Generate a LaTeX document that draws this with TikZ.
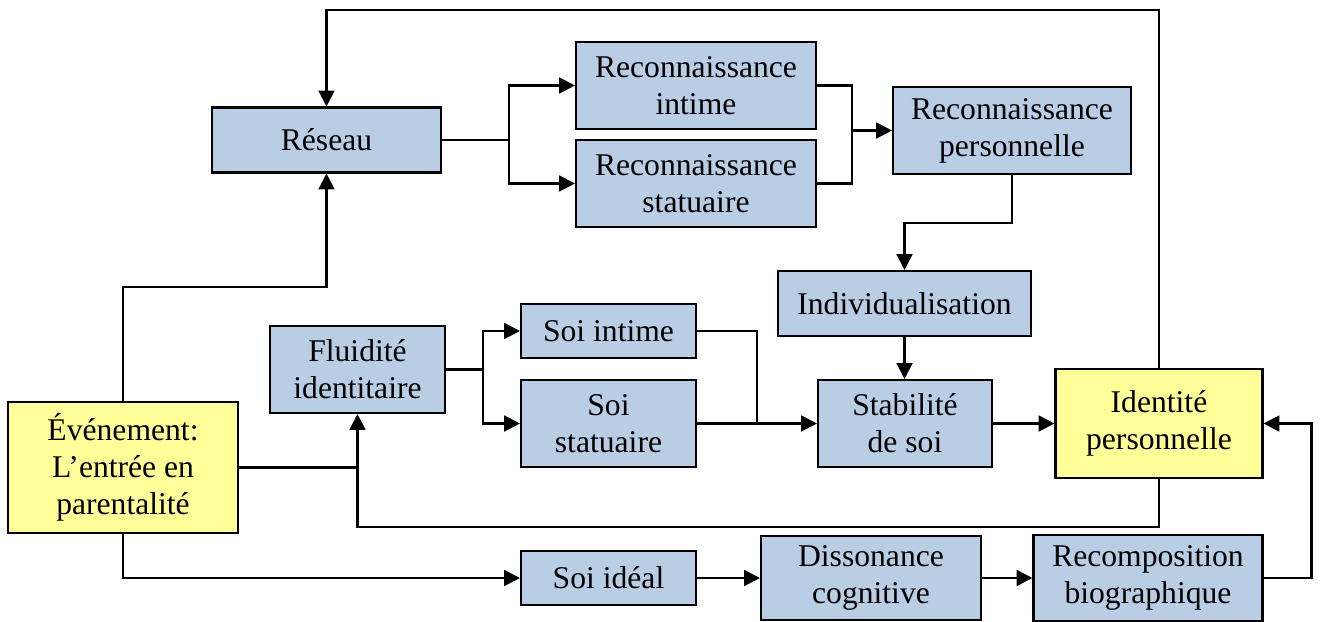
\documentclass[tikz,border=0pt]{standalone}
\usepackage{fontspec}
\setmainfont{Liberation Serif}
\usetikzlibrary{arrows.meta,positioning}
\definecolor{boxblue}{HTML}{B9CDE5}
\definecolor{boxyellow}{HTML}{FFFF99}
\begin{document}
\begin{tikzpicture}[
      x=0.02cm, y=-0.02cm,
      every node/.style={draw, line width=1.2pt, align=center, inner sep=2pt,
        font=\fontsize{18}{21}\selectfont},
      box/.style={fill=boxblue},
      hilite/.style={fill=boxyellow},
      link/.style={line width=1.3pt},
      arrow/.style={link, -{Triangle[length=9pt,width=9pt]}},
    ]
      \useasboundingbox (0,0) rectangle (1320,622);
      % boxes
      \node[box, minimum width=4.58cm, minimum height=1.3cm] (reseau) at (326.5,140) {Réseau};
      \node[box, minimum width=4.8cm, minimum height=1.74cm] (recint) at (696,85.5) {Reconnaissance\\intime};
      \node[box, minimum width=4.8cm, minimum height=1.74cm] (recstat) at (696,183.5) {Reconnaissance\\statuaire};
      \node[box, minimum width=4.76cm, minimum height=1.74cm] (recpers) at (1012,130.5) {Reconnaissance\\personnelle};
      \node[box, minimum width=5.06cm, minimum height=1.3cm] (indiv) at (904.5,303.5) {Individualisation};
      \node[box, minimum width=3.5cm, minimum height=1.74cm] (fluid) at (357.5,369.5) {Fluidité\\identitaire};
      \node[box, minimum width=3.5cm, minimum height=1.08cm] (soiint) at (608.5,331) {Soi intime};
      \node[box, minimum width=3.5cm, minimum height=1.74cm] (soistat) at (608.5,423.5) {Soi\\statuaire};
      \node[box, minimum width=3.48cm, minimum height=1.74cm] (stab) at (905,423.5) {Stabilité\\de soi};
      \node[hilite, minimum width=4.14cm, minimum height=2.18cm] (ident) at (1159,423.5) {Identité\\personnelle};
      \node[hilite, minimum width=4.6cm, minimum height=2.62cm] (event) at (123,467.5) {Événement:\\L’entrée en\\parentalité};
      \node[box, minimum width=3.5cm, minimum height=1.08cm] (soiideal) at (608.5,578) {Soi idéal};
      \node[box, minimum width=4.4cm, minimum height=1.68cm] (disso) at (871,578) {Dissonance\\cognitive};
      \node[box, minimum width=4.58cm, minimum height=1.72cm] (recomp) at (1148,578) {Recomposition\\biographique};
      % junctions
      \path (reseau.east) ++(67,0) coordinate (jr);
      \path (recpers.west) ++(-40,0) coordinate (jm);
      \path (fluid.east) ++(37,0) coordinate (jf);
      \path (soistat.east) ++(60,0) coordinate (js);
      \coordinate (top) at (0,10);
      % connectors
      \draw[arrow] (ident.north) |- (reseau.north |- top) -- (reseau.north);
      \draw[arrow] (reseau.east) -- (jr) |- (recint.west);
      \draw[arrow] (jr) |- (recstat.west);
      \draw[link] (recint.east) -| (jm);
      \draw[link] (recstat.east) -| (jm);
      \draw[arrow] (jm) -- (recpers.west);
      \draw[arrow] (recpers.south) -- ++(0,48) -| (indiv.north);
      \draw[arrow] (indiv.south) -- (stab.north -| indiv.south);
      \draw[arrow] (fluid.east) -- (jf) |- (soiint.west);
      \draw[arrow] (jf) |- (soistat.west);
      \draw[link] (soiint.east) -| (js);
      \draw[arrow] (soistat.east) -- (stab.west);
      \draw[arrow] (stab.east) -- (ident.west);
      \draw[arrow] (ident.south) -- ++(0,48) -| (fluid.south);
      \draw[link] (event.east) -- (event.east -| fluid.south);
      \draw[arrow] (event.north) -- ++(0,-114) -| (reseau.south);
      \draw[arrow] (event.south) |- (soiideal.west);
      \draw[arrow] (soiideal.east) -- (disso.west);
      \draw[arrow] (disso.east) -- (recomp.west);
      \draw[arrow] (recomp.east) -- ++(48,0) |- (ident.east);
\end{tikzpicture}
\end{document}
